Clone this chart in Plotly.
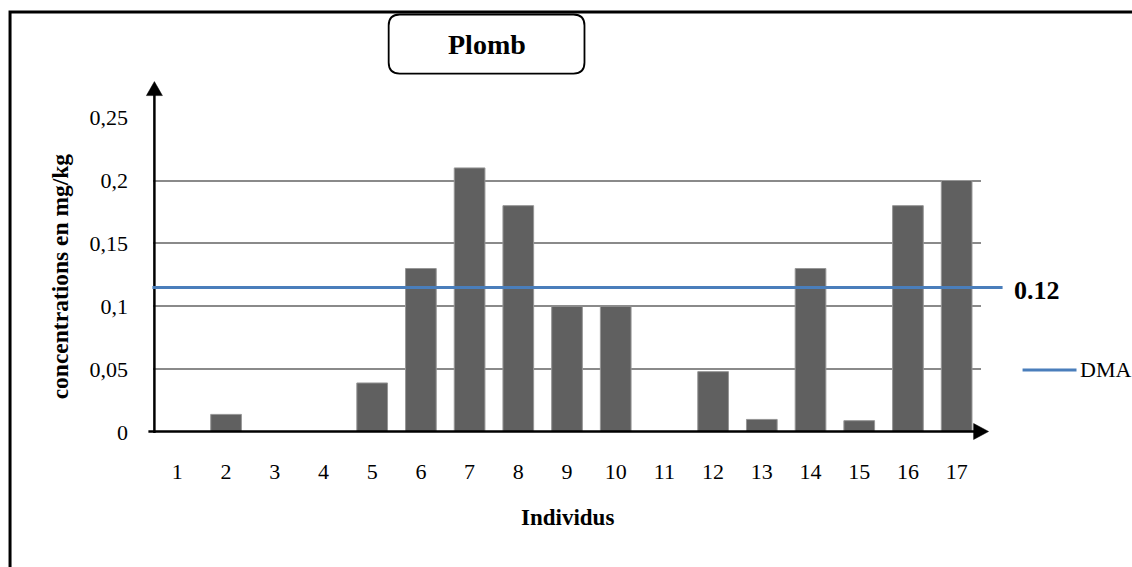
import plotly.graph_objects as go

# ---------------- data ----------------
individus = list(range(1, 18))
plomb = [0, 0.014, 0, 0, 0.039, 0.13, 0.21, 0.18, 0.10, 0.10, 0, 0.048, 0.010, 0.13, 0.009, 0.18, 0.20]
dma_level = 0.115
dma_label = "0.12"
dma_name = "DMA"
y_tickvals = [0, 0.05, 0.1, 0.15, 0.2, 0.25]
y_ticktext = ["0", "0,05", "0,1", "0,15", "0,2", "0,25"]
title_text = "Plomb"
x_title = "Individus"
y_title = "concentrations en mg/kg"

# ---------------- geometry ----------------
W, H = 1132, 567
L, R = 152.6, 981.4          # plot area left/right px
Y0 = 432.0                   # pixel of y=0
YMAX = 0.2505
PXU = 1256.0                 # pixels per unit of y
T = Y0 - YMAX * PXU

def px(x):
    return (x - L) / (R - L)

def py(y):
    return (Y0 - y) / (Y0 - T)

FONT = "Liberation Serif, Times New Roman, serif"
BLUE = "#4a7ebb"

fig = go.Figure()
fig.add_trace(go.Bar(
    x=individus, y=plomb, width=0.63,
    marker=dict(color="#606060", line=dict(color="#969696", width=1)),
    showlegend=False, hoverinfo="x+y",
))

shapes = []
# outer border
shapes.append(dict(type="rect", xref="paper", yref="paper",
                   x0=px(9.5), x1=px(W + 10), y0=py(12.5), y1=py(H + 10),
                   line=dict(color="black", width=3), layer="below"))
# title rounded box
bx0, bx1, by0, by1, rr = 388.5, 584.5, 15, 74, 11
def pt(x, y):
    return f"{px(x)},{py(y)}"
path = (f"M {pt(bx0 + rr, by0)} L {pt(bx1 - rr, by0)} "
        f"Q {pt(bx1, by0)} {pt(bx1, by0 + rr)} L {pt(bx1, by1 - rr)} "
        f"Q {pt(bx1, by1)} {pt(bx1 - rr, by1)} L {pt(bx0 + rr, by1)} "
        f"Q {pt(bx0, by1)} {pt(bx0, by1 - rr)} L {pt(bx0, by0 + rr)} "
        f"Q {pt(bx0, by0)} {pt(bx0 + rr, by0)} Z")
shapes.append(dict(type="path", xref="paper", yref="paper", path=path,
                   line=dict(color="black", width=1.8), fillcolor="white"))
# y axis line + arrow
shapes.append(dict(type="line", xref="paper", yref="paper",
                   x0=px(154), x1=px(154), y0=py(433), y1=py(93),
                   line=dict(color="black", width=2.5)))
shapes.append(dict(type="path", xref="paper", yref="paper",
                   path=f"M {pt(154, 82)} L {pt(162, 96)} L {pt(146, 96)} Z",
                   fillcolor="black", line=dict(color="black", width=0.5)))
# x axis line + arrow
shapes.append(dict(type="line", xref="paper", yref="paper",
                   x0=px(148), x1=px(976), y0=py(431.5), y1=py(431.5),
                   line=dict(color="black", width=2.5)))
shapes.append(dict(type="path", xref="paper", yref="paper",
                   path=f"M {pt(989, 431.5)} L {pt(974, 423.5)} L {pt(974, 439.5)} Z",
                   fillcolor="black", line=dict(color="black", width=0.5)))
# DMA line
shapes.append(dict(type="line", xref="paper", yref="y",
                   x0=px(152), x1=px(1003), y0=dma_level, y1=dma_level,
                   line=dict(color=BLUE, width=3)))
# legend sample
shapes.append(dict(type="line", xref="paper", yref="paper",
                   x0=px(1023), x1=px(1077), y0=py(370), y1=py(370),
                   line=dict(color=BLUE, width=3)))

annotations = [
    dict(text=f"<b>{title_text}</b>", x=px(486.5), y=py(45), xref="paper", yref="paper",
         showarrow=False, font=dict(family=FONT, size=28, color="black"),
         xanchor="center", yanchor="middle"),
    dict(text=f"<b>{dma_label}</b>", x=px(1012), y=dma_level, xref="paper", yref="y",
         showarrow=False, font=dict(family=FONT, size=26, color="black"),
         xanchor="left", yanchor="middle", yshift=-3),
    dict(text=dma_name, x=px(1078), y=py(370), xref="paper", yref="paper",
         showarrow=False, font=dict(family=FONT, size=22, color="black"),
         xanchor="left", yanchor="middle"),
    dict(text=f"<b>{x_title}</b>", x=px(567), y=py(517), xref="paper", yref="paper",
         showarrow=False, font=dict(family=FONT, size=23, color="black"),
         xanchor="center", yanchor="middle"),
    dict(text=f"<b>{y_title}</b>", x=px(59), y=py(276), xref="paper", yref="paper",
         showarrow=False, font=dict(family=FONT, size=23.5, color="black"),
         xanchor="center", yanchor="middle", textangle=-90),
]

fig.update_layout(
    width=W, height=H,
    margin=dict(l=L, r=W - R, t=T, b=H - Y0, pad=0),
    paper_bgcolor="white", plot_bgcolor="white",
    shapes=shapes, annotations=annotations,
    showlegend=False,
    bargap=0.37,
    font=dict(family=FONT, size=22, color="black"),
    xaxis=dict(range=[0.5, 17.5], tickvals=individus, ticktext=[str(i) for i in individus],
               showgrid=False, zeroline=False, showline=False, ticks="",
               ticklabelstandoff=24, tickfont=dict(family=FONT, size=22, color="black")),
    yaxis=dict(range=[0, YMAX], tickvals=y_tickvals, ticktext=y_ticktext,
               showgrid=True, gridcolor="#8a8a8a", gridwidth=1.5,
               zeroline=False, showline=False, ticks="",
               ticklabelstandoff=24, tickfont=dict(family=FONT, size=22, color="black")),
)

fig.write_html("out.html")
